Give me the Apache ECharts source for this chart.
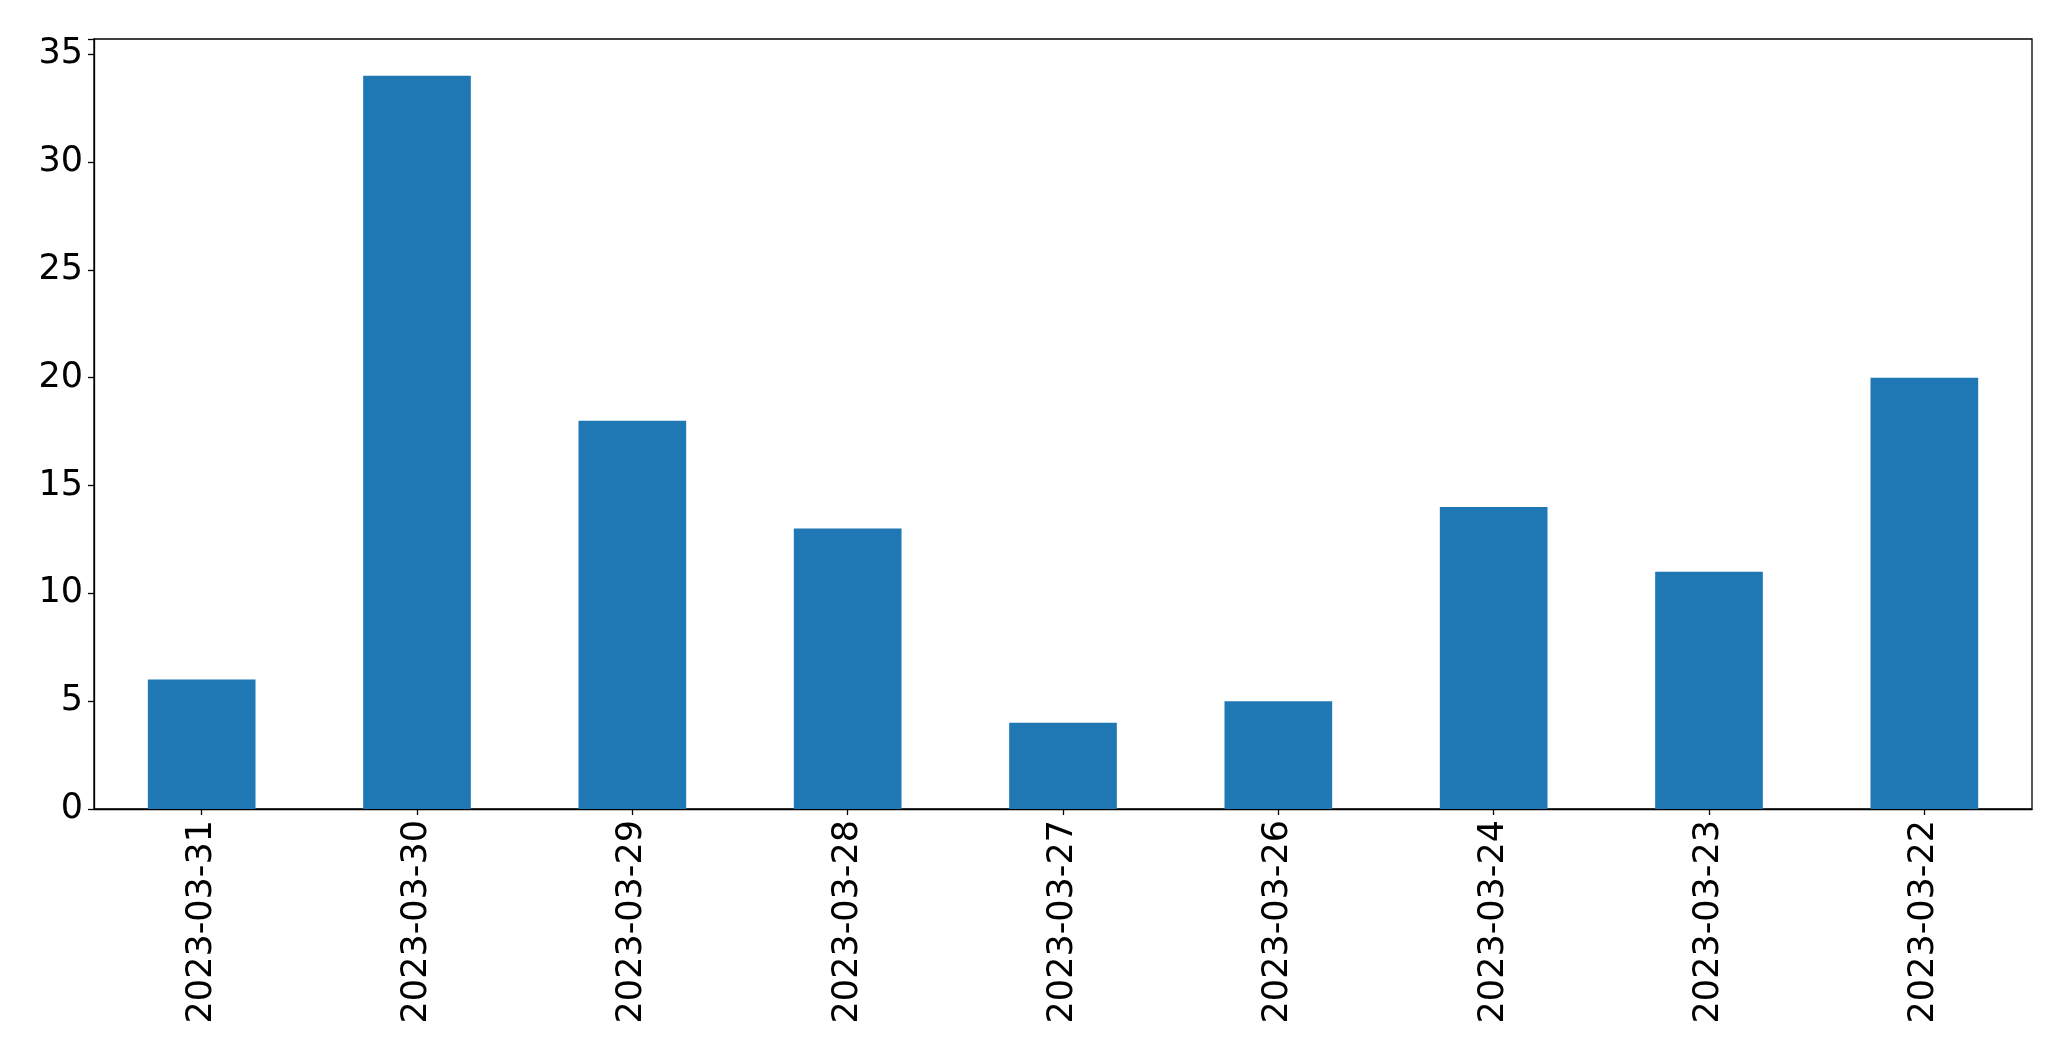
<!DOCTYPE html>
<html>
<head>
<meta charset="utf-8">
<script src="https://cdn.jsdelivr.net/npm/echarts@6/dist/echarts.min.js"></script>
<style>
html,body{margin:0;padding:0;background:#fff;}
#chart{width:2071px;height:1061px;}
</style>
</head>
<body>
<div id="chart"></div>
<script>
const categories = ['2023-03-31','2023-03-30','2023-03-29','2023-03-28','2023-03-27','2023-03-26','2023-03-24','2023-03-23','2023-03-22'];
const values = [6, 34, 18, 13, 4, 5, 14, 11, 20];
const yMax = 35.7;
const yInterval = 5;

const chart = echarts.init(document.getElementById('chart'), null, {renderer: 'canvas'});
const font = 'DejaVu Sans';
chart.setOption({
  animation: false,
  backgroundColor: '#ffffff',
  grid: {
    left: 94, top: 39, right: 39, bottom: 252,
    show: true, borderColor: '#000', borderWidth: 1.3, backgroundColor: 'transparent'
  },
  xAxis: {
    type: 'category',
    data: categories,
    boundaryGap: true,
    axisLine: {show: true, lineStyle: {color: '#000', width: 1.3}},
    axisTick: {show: true, alignWithLabel: true, length: 6, lineStyle: {color: '#000', width: 1.3}},
    axisLabel: {rotate: 90, fontFamily: font, fontSize: 35, color: '#000', margin: 11, interval: 0},
    splitLine: {show: false}
  },
  yAxis: {
    type: 'value',
    min: 0, max: yMax, interval: yInterval,
    axisLine: {show: true, lineStyle: {color: '#000', width: 1.3}},
    axisTick: {show: true, length: 6, lineStyle: {color: '#000', width: 1.3}},
    axisLabel: {fontFamily: font, fontSize: 35, color: '#000', margin: 11,
      showMaxLabel: true,
      formatter: v => (v % 5 === 0 ? String(v) : '')},
    splitLine: {show: false}
  },
  series: [{
    type: 'bar',
    data: values,
    barWidth: '50%',
    itemStyle: {color: '#1f77b4'}
  }]
});
</script>
</body>
</html>
